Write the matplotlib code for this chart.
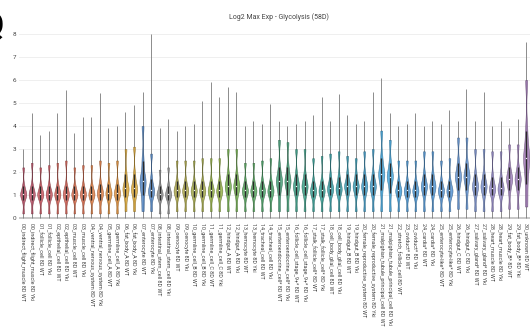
import numpy as np
import matplotlib
matplotlib.use("Agg")
import matplotlib.pyplot as plt
from matplotlib.colors import to_rgb

# -----------------------------
# Data
# -----------------------------

clusters = [
    "00_indirect_flight_muscle", "01_follicle_cell", "02_epithelial_cell",
    "03_muscle_cell", "04_ventral_nervous_system", "05_germline_cell_A",
    "06_fat_body_A", "07_enterocyte", "08_intestinal_stem_cell", "09_oenocyte",
    "10_germline_cell_B", "11_germline_cell_C", "12_hindgut_A", "13_hemocyte",
    "14_tracheal_cell", "15_enteroendocrine_cell*", "16_follicle_cell_stage_9+*",
    "17_stalk_follicle_cell*", "18_cell_body_glial_cell", "19_hindgut_B",
    "20_female_reproductive_system", "21_malpighian_tubule_principal_cell",
    "22_stretch_follicle_cell", "23_oviduct*", "24_cardia*", "25_enterocyte-like*",
    "26_hindgut_C", "27_salivary_gland*", "28_heart_muscle", "29_fat_body_B*",
    "30_unknown",
]
conditions = ["WT", "Yki"]
missing = ["22_stretch_follicle_cell 8D Yki", "30_unknown 8D Yki"]

cluster_colors = [
    "#b8475f", "#c84d58", "#d2584c", "#d86442", "#de773a", "#e08a30",
    "#d9a22a", "#4a80c2", "#8a8a8a", "#a9a23e", "#9ea43e", "#8fae3a",
    "#6aab45", "#4da155", "#3f9d5e", "#3a9a70", "#2f9a80", "#2b9a8f",
    "#2a98a0", "#2d96b0", "#3596c5", "#3aa3dc", "#3a98d5", "#4292d2",
    "#4690d2", "#4b8ed2", "#5a8ed0", "#7088c8", "#8a7fc0", "#9a78b8",
    "#9a6fb0",
]

# per violin: low tail, q1, median, q3, high tail, max
low = [0.2, 0.2, 0.2, 0.2, 0.2, 0.2, 0.2, 0.2, 0.2, 0.2,
       0.2, 0.2, 0.3, 0.3, 0.3, 0.3, 0.2, 0.2, 0.3, 0.3,
       0.3, 0.3, 0.3, 0.3, 0.3, 0.3, 0.3, 0.3, 0.3, 0.3,
       0.3, 0.3, 0.3, 0.3, 0.3, 0.3, 0.3, 0.3, 0.3, 0.3,
       0.3, 0.3, 0.3, 0.3, 0.3, 0.3, 0.3, 0.3, 0.3, 0.3,
       0.3, 0.4, 0.4, 0.3, 0.3, 0.3, 0.3, 0.4, 0.4, 0.5]
q1 = [0.8, 0.8, 0.8, 0.8, 0.8, 0.8, 0.8, 0.8, 0.8, 0.8,
      0.8, 0.8, 0.9, 0.9, 1.0, 0.9, 0.8, 0.8, 0.9, 0.9,
      0.9, 0.9, 0.9, 0.9, 1.0, 1.0, 0.9, 0.9, 0.9, 0.9,
      1.0, 1.0, 1.0, 1.0, 0.9, 0.9, 1.0, 1.0, 1.0, 1.0,
      1.0, 1.0, 1.2, 1.1, 0.9, 0.9, 0.9, 1.0, 1.0, 0.9,
      0.9, 1.2, 1.2, 1.0, 1.0, 1.0, 1.0, 1.2, 1.2, 1.5]
med = [1.05, 1.05, 1.05, 1.05, 1.05, 1.05, 1.05, 1.05, 1.05, 1.1,
       1.1, 1.1, 1.3, 1.3, 1.6, 1.2, 1.05, 1.05, 1.2, 1.2,
       1.2, 1.2, 1.2, 1.2, 1.4, 1.4, 1.2, 1.2, 1.2, 1.2,
       1.6, 1.6, 1.4, 1.4, 1.2, 1.2, 1.3, 1.3, 1.4, 1.4,
       1.4, 1.4, 1.9, 1.8, 1.2, 1.2, 1.2, 1.4, 1.4, 1.2,
       1.2, 1.8, 1.8, 1.4, 1.4, 1.3, 1.3, 1.7, 1.7, 2.6]
q3 = [1.4, 1.4, 1.4, 1.4, 1.4, 1.4, 1.4, 1.4, 1.4, 1.5,
      1.5, 1.5, 1.9, 1.9, 2.5, 1.7, 1.4, 1.4, 1.6, 1.6,
      1.6, 1.6, 1.6, 1.6, 1.9, 1.9, 1.6, 1.6, 1.6, 1.6,
      2.2, 2.2, 1.9, 1.9, 1.6, 1.6, 1.8, 1.8, 1.9, 1.9,
      1.9, 1.9, 2.6, 2.4, 1.6, 1.6, 1.6, 1.9, 1.9, 1.6,
      1.6, 2.4, 2.4, 1.9, 1.9, 1.8, 1.8, 2.2, 2.2, 3.8]
high = [2.2, 2.4, 2.2, 2.3, 2.4, 2.5, 2.2, 2.3, 2.3, 2.5,
        2.4, 2.5, 3.0, 3.1, 4.0, 2.8, 2.1, 2.2, 2.5, 2.5,
        2.5, 2.6, 2.6, 2.6, 3.0, 3.0, 2.4, 2.4, 2.5, 2.6,
        3.4, 3.3, 3.0, 3.0, 2.6, 2.7, 2.8, 2.9, 2.7, 2.6,
        2.9, 3.0, 3.8, 3.4, 2.5, 2.5, 2.5, 2.9, 2.9, 2.5,
        2.6, 3.5, 3.5, 3.0, 3.0, 2.9, 2.9, 3.2, 3.2, 6.0]
vmax = [3.0, 4.55, 3.6, 3.8, 4.55, 5.55, 3.7, 4.4, 4.4, 5.45,
        3.9, 4.0, 4.6, 4.9, 5.5, 8.0, 3.9, 4.3, 3.8, 4.0,
        4.1, 5.1, 5.9, 5.25, 5.7, 5.5, 4.0, 4.2, 4.1, 4.95,
        4.2, 4.0, 4.1, 4.2, 4.5, 5.25, 4.2, 5.4, 4.5, 4.1,
        4.2, 5.5, 6.1, 4.55, 4.0, 4.1, 4.55, 4.0, 4.2, 4.1,
        4.7, 4.2, 5.6, 4.2, 5.5, 4.0, 4.2, 3.9, 4.3, 7.65]

# -----------------------------
# Categories and colours
# -----------------------------

labels = []
colors = []
for name, c in zip(clusters, cluster_colors):
    for cond in conditions:
        lab = f"{name} 8D {cond}"
        if lab in missing:
            continue
        labels.append(lab)
        colors.append(c)

x = np.arange(len(labels))
bodies = [[lo, a, m, m, m, b, hi] for lo, a, m, b, hi in zip(low, q1, med, q3, high)]


def darker(c, f=0.6):
    r, g, b = to_rgb(c)
    return (r * f, g * f, b * f)


# -----------------------------
# Figure
# -----------------------------

plt.rcParams["font.family"] = ["Roboto", "DejaVu Sans"]

W, H = 530, 331
fig = plt.figure(figsize=(W / 100, H / 100), dpi=100)

step = 8.525
x_left = 23.2 - 0.5 * step
x_right = x_left + len(labels) * step
y0_px, unit = 218.0, 23.0
ymin, ymax = -0.1, 8.3
bottom_px = y0_px - ymin * unit
top_px = y0_px - ymax * unit
ax = fig.add_axes([x_left / W, (H - bottom_px) / H,
                   (x_right - x_left) / W, (bottom_px - top_px) / H])

ax.set_xlim(-0.5, len(labels) - 0.5)
ax.set_ylim(ymin, ymax)

# grid
for v in range(1, 9):
    ax.axhline(v, color="#ececec", lw=0.6, zorder=0)
ax.axhline(0, color="#c8c8c8", lw=1.4, zorder=0)

# whiskers to max
ax.vlines(x, 0, vmax, color="#7a7a7a", lw=0.6, zorder=1)

parts = ax.violinplot(bodies, positions=x, widths=0.72, showextrema=False,
                      bw_method=0.3)
for body, c in zip(parts["bodies"], colors):
    body.set_facecolor(c)
    body.set_edgecolor(darker(c))
    body.set_linewidth(0.4)
    body.set_alpha(0.8)
    body.set_zorder(2)

# inner box
ax.vlines(x, q1, q3, color="#2a2a2a", lw=1.0, zorder=3)
ax.scatter(x, med, s=1.0, color="#f4f4f4", zorder=4, linewidths=0)

for s in ax.spines.values():
    s.set_visible(False)

ax.set_xticks(x)
ax.set_xticklabels(labels, rotation=-90, fontsize=3.9, color="#444444",
                   va="top", ha="center")
ax.set_yticks(range(0, 9))
ax.set_yticklabels([str(v) for v in range(0, 9)], fontsize=4.6, color="#444444")
ax.tick_params(length=0, pad=2)

fig.text(279 / W, 1 - 17 / H, "Log2 Max Exp - Glycolysis (58D)",
         ha="center", va="center", fontsize=5, color="#444444")
fig.text(4 / W, 1 - 26 / H, "Q", ha="right", va="center",
         fontsize=24, fontweight="bold", color="black")

fig.savefig("out.png", dpi=100)
